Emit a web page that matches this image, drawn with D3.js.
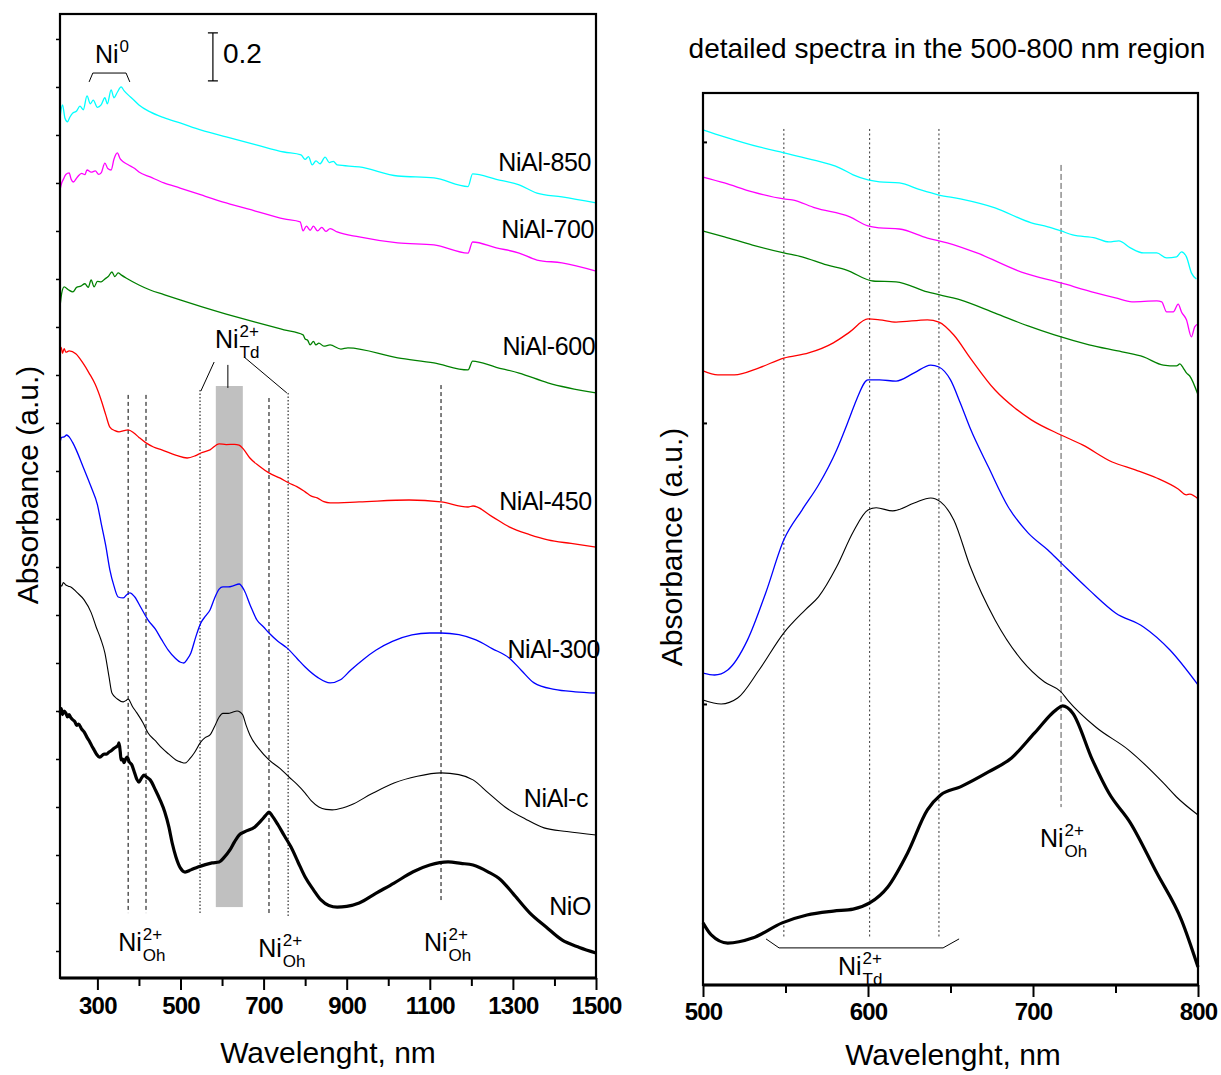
<!DOCTYPE html>
<html>
<head>
<meta charset="utf-8">
<script src="https://cdn.jsdelivr.net/npm/d3@7"></script>
<style>
body { margin: 0; background: #fff; }
text { font-family: "Liberation Sans", Arial, sans-serif; fill: #000; }
</style>
</head>
<body>
<svg id="chart" width="1221" height="1075"></svg>
<script>
// ---- left panel spectra, [wavelength nm, offset absorbance] ----
var nial850L = [[210,3.471],[216,3.525],[222,3.47],[228,3.455],[234,3.475],[240,3.49],[250,3.50],[258,3.52],[266,3.505],[275,3.563],[283,3.53],[290,3.545],[300,3.515],[309,3.525],[318,3.555],[324,3.53],[333,3.588],[340,3.555],[348,3.578],[357,3.600],[364,3.585],[374,3.567],[385,3.55],[400,3.525],[427,3.496],[460,3.472],[499,3.450],[550,3.42],[610,3.392],[680,3.36],[749,3.329],[790,3.317],[800,3.298],[808,3.31],[817,3.275],[826,3.292],[836,3.28],[848,3.308],[858,3.285],[868,3.29],[877,3.275],[930,3.267],[1023,3.229],[1110,3.221],[1192,3.185],[1203,3.238],[1260,3.215],[1315,3.192],[1358,3.158],[1418,3.142],[1500,3.117]];
var nial700L = [[210,3.171],[214,3.20],[218,3.215],[224,3.235],[232,3.242],[237,3.215],[242,3.204],[252,3.225],[262,3.24],[270,3.235],[275,3.254],[285,3.245],[295,3.25],[303,3.236],[309,3.242],[318,3.283],[325,3.26],[333,3.254],[340,3.30],[348,3.325],[355,3.30],[362,3.288],[375,3.275],[390,3.26],[400,3.246],[427,3.225],[460,3.20],[499,3.179],[550,3.15],[610,3.117],[680,3.083],[749,3.050],[788,3.038],[795,3.00],[803,3.02],[812,3.003],[820,3.02],[830,3.0],[840,3.015],[850,2.998],[860,3.01],[877,2.996],[930,2.975],[1023,2.950],[1110,2.942],[1192,2.908],[1203,2.954],[1260,2.93],[1315,2.908],[1358,2.879],[1418,2.867],[1500,2.833]];
var nial600L = [[210,2.683],[214,2.74],[220,2.767],[230,2.755],[241,2.746],[250,2.765],[260,2.77],[270,2.78],[278,2.765],[285,2.796],[292,2.767],[300,2.79],[309,2.788],[318,2.80],[326,2.81],[335,2.829],[342,2.81],[350,2.825],[357,2.817],[369,2.804],[400,2.775],[427,2.754],[460,2.735],[499,2.713],[550,2.685],[610,2.654],[680,2.62],[749,2.588],[795,2.567],[800,2.55],[806,2.545],[812,2.525],[820,2.54],[826,2.525],[833,2.533],[845,2.52],[860,2.525],[886,2.508],[903,2.513],[1023,2.471],[1110,2.45],[1192,2.421],[1203,2.458],[1260,2.432],[1315,2.408],[1384,2.367],[1500,2.325]];
var nial450L = [[210,2.504],[213,2.515],[216,2.49],[220,2.51],[224,2.495],[232,2.50],[248,2.488],[265,2.45],[280,2.408],[295,2.36],[309,2.296],[320,2.235],[330,2.183],[342,2.168],[352,2.163],[364,2.168],[374,2.171],[388,2.158],[400,2.14],[417,2.117],[435,2.10],[455,2.088],[490,2.065],[516,2.054],[535,2.063],[549,2.075],[571,2.088],[593,2.113],[610,2.11],[630,2.111],[641,2.108],[652,2.09],[667,2.054],[690,2.02],[713,1.992],[740,1.97],[761,1.950],[780,1.935],[800,1.913],[815,1.895],[829,1.888],[845,1.872],[860,1.867],[930,1.871],[1050,1.879],[1127,1.871],[1192,1.850],[1204,1.854],[1250,1.81],[1291,1.767],[1340,1.735],[1384,1.713],[1440,1.698],[1500,1.683]];
var nial300L = [[210,2.117],[214,2.14],[220,2.142],[226,2.15],[232,2.142],[240,2.12],[249,2.088],[265,2.02],[285,1.933],[300,1.86],[309,1.783],[320,1.69],[330,1.588],[340,1.52],[350,1.475],[362,1.471],[370,1.483],[378,1.492],[390,1.475],[405,1.43],[422,1.379],[440,1.34],[455,1.296],[470,1.255],[487,1.221],[500,1.203],[508,1.200],[516,1.215],[525,1.242],[537,1.31],[549,1.367],[560,1.395],[571,1.421],[582,1.47],[593,1.508],[602,1.517],[615,1.517],[628,1.522],[641,1.529],[653,1.504],[668,1.44],[684,1.379],[700,1.35],[713,1.325],[735,1.29],[756,1.263],[780,1.22],[800,1.183],[830,1.14],[860,1.117],[885,1.13],[910,1.171],[940,1.215],[971,1.254],[1010,1.29],[1057,1.317],[1100,1.325],[1127,1.325],[1170,1.318],[1211,1.296],[1250,1.26],[1291,1.221],[1320,1.17],[1351,1.117],[1400,1.09],[1450,1.08],[1500,1.075]];
var nialcL = [[210,1.533],[214,1.52],[218,1.535],[224,1.525],[230,1.52],[236,1.517],[250,1.495],[268,1.463],[285,1.41],[297,1.350],[308,1.30],[318,1.242],[328,1.142],[335,1.075],[348,1.05],[362,1.038],[370,1.045],[374,1.050],[384,1.02],[395,0.992],[410,0.95],[422,0.908],[440,0.875],[455,0.846],[472,0.82],[489,0.796],[500,0.788],[511,0.783],[522,0.80],[533,0.825],[549,0.871],[560,0.89],[571,0.900],[582,0.935],[593,0.975],[602,0.99],[615,0.99],[625,0.995],[636,1.000],[644,0.995],[650,0.983],[658,0.94],[667,0.900],[690,0.84],[713,0.796],[740,0.76],[761,0.725],[780,0.695],[800,0.658],[815,0.625],[833,0.600],[850,0.59],[865,0.588],[890,0.596],[910,0.608],[960,0.655],[1014,0.700],[1070,0.728],[1127,0.742],[1170,0.735],[1204,0.713],[1240,0.66],[1281,0.600],[1330,0.55],[1375,0.513],[1430,0.498],[1500,0.483]];
var nioL = [[210,0.992],[213,1.01],[216,0.985],[220,1.0],[224,0.992],[228,0.975],[232,0.985],[236,0.972],[241,0.963],[246,0.955],[250,0.94],[255,0.945],[262,0.925],[268,0.913],[275,0.89],[282,0.87],[288,0.85],[292,0.838],[298,0.82],[306,0.808],[316,0.82],[322,0.82],[328,0.829],[334,0.835],[340,0.845],[345,0.85],[350,0.858],[352,0.867],[355,0.83],[357,0.796],[361,0.80],[364,0.785],[368,0.80],[372,0.808],[376,0.79],[383,0.775],[390,0.74],[395,0.715],[400,0.704],[406,0.72],[412,0.733],[418,0.725],[427,0.713],[440,0.67],[451,0.629],[462,0.58],[472,0.517],[480,0.45],[489,0.392],[500,0.345],[511,0.329],[525,0.338],[542,0.350],[560,0.36],[576,0.367],[593,0.371],[605,0.39],[619,0.421],[630,0.455],[641,0.483],[655,0.497],[679,0.517],[695,0.545],[705,0.565],[713,0.579],[720,0.565],[735,0.525],[750,0.48],[766,0.433],[783,0.37],[800,0.308],[820,0.255],[838,0.213],[857,0.19],[877,0.183],[900,0.186],[930,0.200],[970,0.24],[1014,0.283],[1060,0.33],[1100,0.358],[1144,0.371],[1175,0.365],[1204,0.358],[1240,0.33],[1271,0.296],[1300,0.24],[1341,0.158],[1380,0.10],[1418,0.046],[1460,0.015],[1500,-0.008]];

// ---- right panel, 500-800 nm detail ----
var nial850R = [[500,3.043],[513,3.018],[534,2.982],[549,2.961],[564,2.940],[583,2.907],[591,2.883],[600,2.865],[607,2.858],[619,2.854],[632,2.829],[643,2.811],[656,2.797],[677,2.765],[699,2.712],[709,2.698],[717,2.683],[724,2.669],[738,2.658],[746,2.644],[752,2.648],[759,2.623],[767,2.605],[775,2.605],[781,2.587],[787,2.591],[790,2.609],[793,2.591],[796,2.534],[799,2.512]];
var nial700R = [[500,2.875],[513,2.854],[530,2.822],[549,2.797],[554,2.794],[568,2.765],[589,2.733],[600,2.701],[607,2.694],[619,2.690],[636,2.658],[648,2.641],[666,2.605],[693,2.537],[717,2.498],[738,2.463],[750,2.445],[760,2.431],[775,2.434],[778,2.431],[781,2.395],[785,2.395],[788,2.423],[790,2.395],[793,2.367],[796,2.306],[798,2.342],[800,2.352]];
var nial600R = [[500,2.683],[513,2.662],[530,2.633],[549,2.605],[560,2.591],[575,2.562],[587,2.544],[603,2.505],[617,2.502],[636,2.466],[656,2.438],[677,2.391],[697,2.345],[713,2.313],[734,2.278],[754,2.253],[767,2.235],[779,2.206],[787,2.203],[789,2.21],[791,2.196],[793,2.178],[795,2.167],[800,2.100]];
var nial450R = [[500,2.185],[509,2.171],[519,2.171],[534,2.196],[549,2.231],[564,2.249],[579,2.285],[589,2.324],[600,2.370],[607,2.367],[617,2.359],[636,2.367],[643,2.359],[652,2.313],[662,2.231],[677,2.117],[689,2.053],[699,2.011],[717,1.957],[730,1.922],[748,1.861],[762,1.833],[775,1.804],[788,1.765],[793,1.744],[795,1.747],[800,1.730]];
var nial300R = [[500,1.110],[507,1.103],[515,1.121],[527,1.228],[538,1.395],[549,1.584],[560,1.690],[570,1.779],[581,1.904],[589,2.021],[593,2.082],[600,2.153],[607,2.153],[617,2.149],[628,2.178],[638,2.206],[643,2.199],[650,2.153],[656,2.07],[662,1.98],[673,1.843],[685,1.701],[697,1.609],[709,1.548],[717,1.502],[734,1.406],[750,1.324],[767,1.274],[783,1.192],[800,1.068]];
var nialcR = [[500,1.014],[511,1.000],[521,1.021],[534,1.121],[549,1.253],[562,1.335],[570,1.381],[581,1.488],[591,1.612],[600,1.690],[605,1.698],[615,1.687],[628,1.715],[638,1.733],[644,1.719],[652,1.655],[662,1.488],[677,1.299],[693,1.157],[707,1.078],[717,1.043],[721,1.014],[738,0.918],[758,0.836],[779,0.719],[787,0.669],[800,0.605]];
var nioR = [[500,0.221],[505,0.178],[515,0.149],[530,0.167],[548,0.221],[563,0.249],[579,0.263],[591,0.270],[601,0.292],[612,0.349],[624,0.470],[636,0.623],[644,0.676],[656,0.705],[673,0.758],[687,0.808],[701,0.897],[714,0.979],[718,0.993],[724,0.968],[736,0.801],[746,0.683],[759,0.577],[775,0.399],[790,0.231],[800,0.064]];

var seriesNames = ["NiAl-850", "NiAl-700", "NiAl-600", "NiAl-450", "NiAl-300", "NiAl-c", "NiO"];
var seriesColors = ["#00ffff", "#ff00ff", "#008000", "#ff0000", "#0000ff", "#000000", "#000000"];
var seriesWidths = [1.3, 1.3, 1.3, 1.3, 1.3, 1.1, 3.2];
var leftSeries = [nial850L, nial700L, nial600L, nial450L, nial300L, nialcL, nioL];
var rightSeries = [nial850R, nial700R, nial600R, nial450R, nial300R, nialcR, nioR];

// curve labels: [x end nm, baseline value]
var labelPos = [[1488,3.25],[1495,2.971],[1498,2.483],[1490,1.8375],[1510,1.221],[1481,0.6],[1488,0.15]];

var xTicksL = [300, 500, 700, 900, 1100, 1300, 1500];
var xMinorL = [400, 600, 800, 1000, 1200, 1400];
var xTicksR = [500, 600, 700, 800];
var xMinorR = [550, 650, 750];

// marker lines [nm, top, bottom]
var dashedL = [[374,2.317,0.158],[417,2.317,0.158],[713,2.304,0.146],[1127,2.358,0.2]];
var dottedL = [[547,2.3375,0.158],[759,2.325,0.146]];
var bandL = [585, 650, 2.354, 0.183];
var dottedR = [[549,3.046,0.164],[601,3.046,0.164],[643,3.046,0.164]];
var dashedR = [[717,2.918,0.633]];

var svg = d3.select("#chart");

var xL = d3.scaleLinear().domain([210, 1500]).range([60, 596]);
var yL = d3.scaleLinear().domain([-0.1125, 3.904]).range([978, 14]);
var xR = d3.scaleLinear().domain([500, 800]).range([703, 1198]);
var yR = d3.scaleLinear().domain([0, 3.174]).range([985, 93]);

function vline(g, x, y, d, dash, color) {
	g.append("line")
		.attr("x1", x(d[0])).attr("x2", x(d[0]))
		.attr("y1", y(d[1])).attr("y2", y(d[2]))
		.attr("stroke", color).attr("stroke-width", 1)
		.attr("stroke-dasharray", dash);
}

function ion(g, px, py, sup, sub, size) {
	var t = g.append("text").attr("x", px).attr("y", py).attr("font-size", size).text("Ni");
	var w = t.node().getComputedTextLength();
	if (sup) g.append("text").attr("x", px + w + 1).attr("y", py - 11).attr("font-size", 17).text(sup);
	if (sub) g.append("text").attr("x", px + w + 1).attr("y", py + 10).attr("font-size", 17).text(sub);
}

function drawPanel(x, y, series, xt, xm, tickPad) {
	var g = svg.append("g");
	var line = d3.line()
		.x(function (d) { return x(d[0]); })
		.y(function (d) { return y(d[1]); })
		.curve(d3.curveMonotoneX);

	g.selectAll(".spec")
		.data(series)
		.enter()
		.append("path")
		.attr("class", "spec")
		.attr("d", line)
		.attr("fill", "none")
		.attr("stroke", function (d, i) { return seriesColors[i]; })
		.attr("stroke-width", function (d, i) { return seriesWidths[i]; })
		.attr("stroke-linejoin", "round");

	var x0 = x.range()[0], x1 = x.range()[1], yb = y.range()[0], yt = y.range()[1];

	// bottom axis, major + minor
	var ax = g.append("g").attr("transform", "translate(0," + yb + ")")
		.call(d3.axisBottom(x).tickValues(xt).tickSize(12).tickPadding(tickPad).tickFormat(d3.format("d")));
	ax.selectAll("text").attr("font-size", 24).attr("font-weight", "bold")
		.attr("letter-spacing", -0.8)
		.attr("font-family", "'Liberation Sans', Arial, sans-serif").attr("fill", "#000");
	ax.selectAll("line").attr("stroke-width", 2);
	ax.select(".domain").remove();
	var mx = g.append("g").attr("transform", "translate(0," + yb + ")")
		.call(d3.axisBottom(x).tickValues(xm).tickSize(8).tickFormat(""));
	mx.selectAll("line").attr("stroke-width", 2);
	mx.select(".domain").remove();

	g.append("rect")
		.attr("x", x0).attr("y", yt)
		.attr("width", x1 - x0).attr("height", yb - yt)
		.attr("fill", "none").attr("stroke", "#000").attr("stroke-width", 2.2);
	g.append("line").attr("x1", x0).attr("x2", x1).attr("y1", yb).attr("y2", yb)
		.attr("stroke", "#000").attr("stroke-width", 3);
	return g;
}

// ---------- left panel ----------
var gL = svg.append("g");
gL.append("rect")
	.attr("x", xL(bandL[0])).attr("y", yL(bandL[2]))
	.attr("width", xL(bandL[1]) - xL(bandL[0]))
	.attr("height", yL(bandL[3]) - yL(bandL[2]))
	.attr("fill", "#c0c0c0");
dashedL.forEach(function (d) { vline(gL, xL, yL, d, "4,3", "#000"); });
dottedL.forEach(function (d) { vline(gL, xL, yL, d, "1.5,2", "#000"); });

var pL = drawPanel(xL, yL, leftSeries, xTicksL, xMinorL, 7);

var ly = pL.append("g").attr("transform", "translate(60,0)")
	.call(d3.axisLeft(yL).tickValues(d3.range(0, 3.81, 0.2)).tickSize(4).tickFormat(""));
ly.select(".domain").remove();
ly.selectAll("line").attr("stroke-width", 1.5);

pL.selectAll(".lbl")
	.data(seriesNames)
	.enter()
	.append("text")
	.attr("class", "lbl")
	.attr("x", function (d, i) { return xL(labelPos[i][0]); })
	.attr("y", function (d, i) { return yL(labelPos[i][1]); })
	.attr("text-anchor", "end")
	.attr("font-size", 25)
	.attr("letter-spacing", -0.4)
	.text(function (d) { return d; });

// Ni0 bracket and scale bar
pL.append("path")
	.attr("d", d3.line()([[xL(280), yL(3.621)], [xL(289), yL(3.658)], [xL(369), yL(3.658)], [xL(378), yL(3.621)]]))
	.attr("fill", "none").attr("stroke", "#000").attr("stroke-width", 1);
ion(pL, xL(294), yL(3.7), "0", null, 25);

var sbX = xL(578);
pL.append("path")
	.attr("d", "M" + sbX + "," + yL(3.625) + "V" + yL(3.825)
		+ "M" + (sbX - 5) + "," + yL(3.625) + "h10"
		+ "M" + (sbX - 5) + "," + yL(3.825) + "h10")
	.attr("fill", "none").attr("stroke", "#000").attr("stroke-width", 1.2);
pL.append("text").attr("x", xL(602)).attr("y", yL(3.7)).attr("font-size", 28).text("0.2");

// tetrahedral Ni label with pointer lines
ion(pL, xL(583), yL(2.5125), "2+", "Td", 25);
[[[581,2.454],[549,2.333]], [[614,2.442],[614,2.346]], [[653,2.475],[756,2.325]]].forEach(function (s) {
	pL.append("line")
		.attr("x1", xL(s[0][0])).attr("y1", yL(s[0][1]))
		.attr("x2", xL(s[1][0])).attr("y2", yL(s[1][1]))
		.attr("stroke", "#000").attr("stroke-width", 1);
});

// octahedral labels at the bottom
[[350, 0], [687, -0.025], [1086, 0]].forEach(function (p) {
	ion(pL, xL(p[0]), yL(p[1]), "2+", "Oh", 25);
});

svg.append("text")
	.attr("x", 328).attr("y", 1063)
	.attr("text-anchor", "middle").attr("font-size", 30)
	.text("Wavelenght, nm");
svg.append("text")
	.attr("transform", "translate(38,485) rotate(-90)")
	.attr("text-anchor", "middle").attr("font-size", 30)
	.text("Absorbance (a.u.)");

// ---------- right panel ----------
var gR = svg.append("g");
dottedR.forEach(function (d) { vline(gR, xR, yR, d, "2,2.5", "#333"); });
dashedR.forEach(function (d) { vline(gR, xR, yR, d, "6,3", "#555"); });

var pR = drawPanel(xR, yR, rightSeries, xTicksR, xMinorR, 6);
var ry = pR.append("g").attr("transform", "translate(703,0)")
	.call(d3.axisLeft(yR).tickValues([1, 2, 3]).tickSize(-4).tickFormat(""));
ry.select(".domain").remove();
ry.selectAll("line").attr("stroke-width", 2);

pR.append("path")
	.attr("d", d3.line()([[xR(538.2), yR(0.164)], [xR(546.1), yR(0.132)], [xR(645.5), yR(0.132)], [xR(655.2), yR(0.164)]]))
	.attr("fill", "none").attr("stroke", "#000").attr("stroke-width", 1);
ion(pR, xR(581.8), yR(0.036), "2+", "Td", 25);
ion(pR, xR(704.2), yR(0.491), "2+", "Oh", 25);

svg.append("text")
	.attr("x", 947).attr("y", 58)
	.attr("text-anchor", "middle").attr("font-size", 28)
	.text("detailed spectra in the 500-800 nm region");
svg.append("text")
	.attr("x", 953).attr("y", 1065)
	.attr("text-anchor", "middle").attr("font-size", 30)
	.text("Wavelenght, nm");
svg.append("text")
	.attr("transform", "translate(682,547) rotate(-90)")
	.attr("text-anchor", "middle").attr("font-size", 30)
	.text("Absorbance (a.u.)");
</script>
</body>
</html>
